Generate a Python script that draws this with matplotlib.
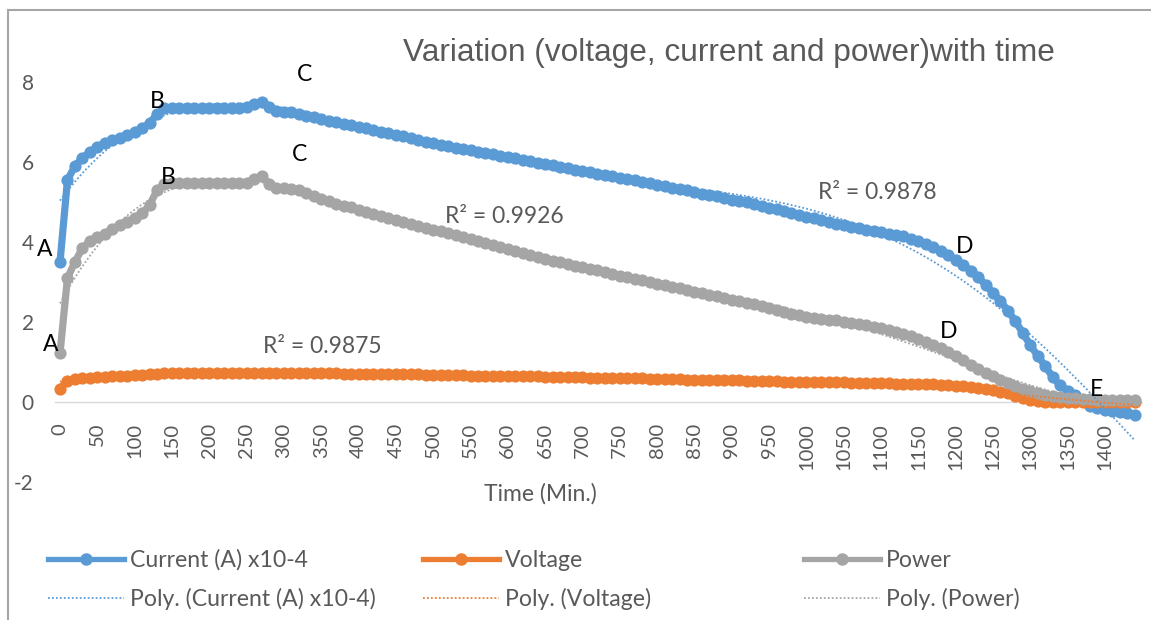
import numpy as np
import matplotlib
matplotlib.use("Agg")
import matplotlib.pyplot as plt
from matplotlib.lines import Line2D

# ---------------- data ----------------
time_min = list(range(0, 1441, 10))

current = [
    3.50, 5.55, 5.90, 6.10, 6.25, 6.38, 6.48, 6.55, 6.60, 6.68,   # 0-90
    6.75, 6.85, 6.97, 7.20, 7.35, 7.35, 7.36, 7.36, 7.36, 7.36,   # 100-190
    7.36, 7.36, 7.36, 7.36, 7.36, 7.38, 7.45, 7.50, 7.38, 7.28,   # 200-290
    7.25, 7.25, 7.20, 7.16, 7.12, 7.07, 7.02, 6.99, 6.95, 6.92,   # 300-390
    6.88, 6.84, 6.80, 6.76, 6.72, 6.68, 6.64, 6.60, 6.55, 6.51,   # 400-490
    6.47, 6.43, 6.39, 6.35, 6.32, 6.29, 6.25, 6.22, 6.19, 6.15,   # 500-590
    6.12, 6.09, 6.05, 6.02, 5.98, 5.95, 5.92, 5.88, 5.85, 5.81,   # 600-690
    5.78, 5.75, 5.71, 5.68, 5.64, 5.61, 5.57, 5.54, 5.50, 5.47,   # 700-790
    5.43, 5.40, 5.36, 5.32, 5.29, 5.25, 5.21, 5.18, 5.14, 5.10,   # 800-890
    5.06, 5.02, 4.99, 4.95, 4.90, 4.86, 4.82, 4.78, 4.73, 4.68,   # 900-990
    4.63, 4.59, 4.55, 4.50, 4.46, 4.42, 4.38, 4.34, 4.30, 4.27,   # 1000-1090
    4.24, 4.21, 4.18, 4.14, 4.08, 4.02, 3.95, 3.88, 3.78, 3.67,   # 1100-1190
    3.56, 3.43, 3.28, 3.13, 2.93, 2.73, 2.52, 2.28, 2.02, 1.72,   # 1200-1290
    1.42, 1.15, 0.90, 0.62, 0.42, 0.28, 0.18, 0.05, -0.10, -0.15, # 1300-1390
    -0.20, -0.23, -0.26, -0.28, -0.33,                            # 1400-1440
]

voltage = [
    0.33, 0.52, 0.57, 0.60, 0.61, 0.62, 0.63, 0.64, 0.65, 0.66,   # 0-90
    0.67, 0.68, 0.70, 0.71, 0.72, 0.72, 0.72, 0.72, 0.72, 0.72,   # 100-190
    0.72, 0.72, 0.72, 0.72, 0.72, 0.72, 0.72, 0.72, 0.72, 0.72,   # 200-290
    0.72, 0.72, 0.72, 0.72, 0.72, 0.72, 0.72, 0.72, 0.71, 0.71,   # 300-390
    0.71, 0.71, 0.71, 0.70, 0.70, 0.70, 0.70, 0.69, 0.69, 0.68,   # 400-490
    0.68, 0.68, 0.67, 0.67, 0.67, 0.66, 0.66, 0.66, 0.65, 0.65,   # 500-590
    0.65, 0.65, 0.64, 0.64, 0.64, 0.63, 0.63, 0.63, 0.62, 0.62,   # 600-690
    0.62, 0.61, 0.61, 0.61, 0.60, 0.60, 0.60, 0.59, 0.59, 0.58,   # 700-790
    0.58, 0.58, 0.57, 0.57, 0.56, 0.56, 0.56, 0.55, 0.55, 0.54,   # 800-890
    0.54, 0.54, 0.53, 0.53, 0.52, 0.52, 0.52, 0.51, 0.51, 0.50,   # 900-990
    0.50, 0.50, 0.50, 0.49, 0.49, 0.49, 0.48, 0.48, 0.48, 0.47,   # 1000-1090
    0.47, 0.47, 0.46, 0.46, 0.46, 0.45, 0.45, 0.44, 0.43, 0.42,   # 1100-1190
    0.41, 0.40, 0.38, 0.36, 0.33, 0.30, 0.26, 0.22, 0.16, 0.11,   # 1200-1290
    0.06, 0.03, 0.01, 0.00, 0.00, 0.00, 0.00, 0.00, 0.00, 0.00,   # 1300-1390
    0.00, 0.00, 0.00, 0.00, 0.00,                                 # 1400-1440
]

power = [
    1.22, 3.10, 3.50, 3.85, 4.02, 4.12, 4.20, 4.32, 4.43, 4.50,   # 0-90
    4.60, 4.72, 4.92, 5.30, 5.45, 5.48, 5.48, 5.48, 5.48, 5.48,   # 100-190
    5.48, 5.48, 5.48, 5.48, 5.48, 5.48, 5.58, 5.65, 5.45, 5.35,   # 200-290
    5.35, 5.33, 5.30, 5.22, 5.14, 5.08, 5.02, 4.96, 4.91, 4.87,   # 300-390
    4.81, 4.76, 4.71, 4.66, 4.61, 4.56, 4.51, 4.46, 4.41, 4.36,   # 400-490
    4.31, 4.27, 4.22, 4.17, 4.12, 4.07, 4.02, 3.97, 3.92, 3.87,   # 500-590
    3.82, 3.77, 3.72, 3.67, 3.62, 3.57, 3.53, 3.49, 3.45, 3.41,   # 600-690
    3.37, 3.33, 3.29, 3.25, 3.20, 3.16, 3.12, 3.08, 3.04, 3.00,   # 700-790
    2.96, 2.92, 2.88, 2.84, 2.80, 2.76, 2.72, 2.68, 2.64, 2.60,   # 800-890
    2.56, 2.52, 2.48, 2.44, 2.39, 2.35, 2.30, 2.25, 2.21, 2.17,   # 900-990
    2.13, 2.10, 2.08, 2.06, 2.04, 2.01, 1.98, 1.95, 1.92, 1.88,   # 1000-1090
    1.84, 1.80, 1.75, 1.70, 1.64, 1.57, 1.51, 1.43, 1.34, 1.25,   # 1100-1190
    1.14, 1.04, 0.92, 0.82, 0.73, 0.64, 0.56, 0.48, 0.40, 0.33,   # 1200-1290
    0.27, 0.22, 0.18, 0.15, 0.12, 0.10, 0.09, 0.08, 0.07, 0.06,   # 1300-1390
    0.06, 0.05, 0.05, 0.05, 0.05,                                 # 1400-1440
]

series_names = ["Current (A) x10-4", "Voltage", "Power"]
r2_texts = ["R\u00b2 = 0.9878", "R\u00b2 = 0.9875", "R\u00b2 = 0.9926"]
x_tick_values = list(range(0, 1401, 50))
y_tick_values = [-2, 0, 2, 4, 6, 8]
title_text = "Variation (voltage, current and power)with time"
x_label = "Time (Min.)"

assert len(current) == len(time_min) == len(voltage) == len(power)

# ---------------- style ----------------
W, H = 1151, 620
DPI = 100
BLUE, ORANGE, GRAY = "#5B9BD5", "#ED7D31", "#A5A5A5"
TXT = "#595959"
plt.rcParams["font.family"] = ["Lato", "DejaVu Sans"]

fig = plt.figure(figsize=(W / DPI, H / DPI), dpi=DPI)
fig.patch.set_facecolor("white")

def px2fx(x):
    return x / W

def px2fy(y):
    return 1 - y / H

# axes: x data 0 -> px 60, 0.7464 px/min ; y 0 -> px 402, 40 px/unit
x0_px, sx = 60.0, 0.7464
y0_px, sy = 402.0, 40.0
xlim = (-7, 1450)
ylim = (-2, 8)
left_px = x0_px + sx * xlim[0]
right_px = x0_px + sx * xlim[1]
bot_px = y0_px - sy * ylim[0]
top_px = y0_px - sy * ylim[1]
ax = fig.add_axes([px2fx(left_px), px2fy(bot_px),
                   (right_px - left_px) / W, (bot_px - top_px) / H])
ax.set_xlim(*xlim)
ax.set_ylim(*ylim)
ax.set_facecolor("none")

t = np.array(time_min, dtype=float)
data = [np.array(current), np.array(voltage), np.array(power)]
colors = [BLUE, ORANGE, GRAY]

for y, c in zip(data, colors):
    ax.plot(t, y, color=c, lw=5.2, marker="o", markersize=8.8,
            markeredgewidth=0, solid_capstyle="round", solid_joinstyle="round",
            clip_on=False, zorder=3)

# polynomial trendlines (fitted from the data, as Excel does)
tt = np.linspace(t.min(), t.max(), 400)
for y, c in zip(data, colors):
    p = np.polynomial.Polynomial.fit(t, y, 6)
    ax.plot(tt, p(tt), color=c, lw=1.3, ls=(0, (1, 1.2)), zorder=5, clip_on=False)

# axes styling
for s in ["top", "right", "left"]:
    ax.spines[s].set_visible(False)
ax.spines["bottom"].set_position(("data", 0))
ax.spines["bottom"].set_color("#D9D9D9")
ax.spines["bottom"].set_linewidth(1.0)
ax.spines["bottom"].set_zorder(1)

ax.set_xticks(x_tick_values)
ax.set_xticklabels([str(v) for v in x_tick_values], rotation=90)
ax.set_yticks(y_tick_values)
ax.set_yticklabels([str(v) for v in y_tick_values])
ax.tick_params(axis="x", length=0, pad=15, labelsize=14.5, labelcolor=TXT)
ax.tick_params(axis="y", length=0, pad=15, labelsize=15, labelcolor=TXT)

# point letters
letter_kw = dict(fontsize=16.5, color="black", ha="center", va="center", zorder=6)
letters = [("A", -20, 3.8), ("A", -13, 1.43), ("B", 130, 7.5), ("B", 145, 5.6),
           ("C", 327, 8.18), ("C", 321, 6.18), ("D", 1212, 3.88), ("D", 1190, 1.75),
           ("E", 1389, 0.3)]
for s, lx, ly in letters:
    ax.text(lx, ly, s, **letter_kw)

# R^2 labels
r2_pos = [(1095, 5.23), (351, 1.38), (596, 4.63)]
for txt, (rx, ry) in zip(r2_texts, r2_pos):
    ax.text(rx, ry, txt, fontsize=16.5, color=TXT, ha="center", va="center", zorder=6)

# title and axis title
fig.text(px2fx(729), px2fy(53), title_text, fontsize=22.8, color=TXT,
         family=["Liberation Sans", "DejaVu Sans"], ha="center", va="center")
fig.text(px2fx(540), px2fy(494), x_label, fontsize=16.5, color=TXT,
         ha="center", va="center")

# legends: three columns, two rows each
leg_cols_px = [48, 423, 804]
for name, c, lx in zip(series_names, colors, leg_cols_px):
    h1 = Line2D([], [], color=c, lw=3.8, marker="o", markersize=9, markeredgewidth=0)
    h2 = Line2D([], [], color=c, lw=1.3, ls=(0, (1, 1.2)))
    fig.legend([h1, h2], [name, "Poly. (" + name + ")"],
               loc="center left", bbox_to_anchor=(px2fx(lx), px2fy(580)),
               frameon=False, fontsize=16.6, handlelength=3.3, handletextpad=0.25,
               labelspacing=0.75, borderpad=0, borderaxespad=0, numpoints=1,
               labelcolor=TXT)

# chart-area border (top and left edges visible)
fig.add_artist(Line2D([px2fx(8), 1], [px2fy(10), px2fy(10)], color="#A6A6A6", lw=1.5))
fig.add_artist(Line2D([px2fx(8), px2fx(8)], [px2fy(10), 0], color="#A6A6A6", lw=1.5))

fig.savefig("out.png", dpi=DPI)
